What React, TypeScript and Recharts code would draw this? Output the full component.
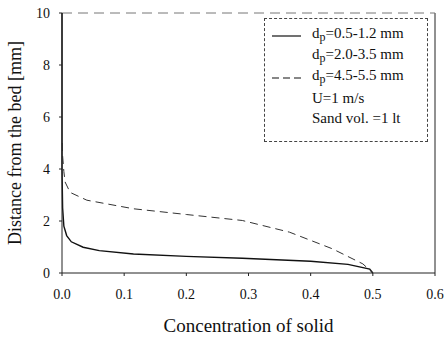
import { LineChart, Line, XAxis, YAxis, ReferenceLine } from 'recharts';

// d_p = 0.5-1.2 mm (solid)
const fineX = [0, 0, 0.001, 0.003, 0.0075, 0.015, 0.034, 0.06, 0.115, 0.2, 0.29, 0.4, 0.46, 0.495, 0.5];
const fineY = [10, 4, 2.5, 1.8, 1.44, 1.2, 0.99, 0.86, 0.73, 0.64, 0.57, 0.45, 0.33, 0.15, 0];

// d_p = 4.5-5.5 mm (dashed)
const coarseX = [0.0005, 0.001, 0.003, 0.005, 0.013, 0.04, 0.115, 0.2, 0.29, 0.366, 0.435, 0.484, 0.5];
const coarseY = [5, 4.5, 3.9, 3.5, 3.1, 2.8, 2.47, 2.25, 2.02, 1.57, 0.93, 0.35, 0];

const xTicks = [0, 0.1, 0.2, 0.3, 0.4, 0.5, 0.6];
const yTicks = [0, 2, 4, 6, 8, 10];

const legendRows = [
  { size: '0.5-1.2', dash: 'solid' },
  { size: '2.0-3.5', dash: 'none' },
  { size: '4.5-5.5', dash: 'dashed' },
];
const notes = ['U=1 m/s', 'Sand vol. =1 lt'];

const fineData = fineX.map((x, i) => ({ x, y: fineY[i] }));
const coarseData = coarseX.map((x, i) => ({ x, y: coarseY[i] }));

const serif = '"Liberation Serif", "DejaVu Serif", serif';

export default function App() {
  return (
    <div style={{ position: 'absolute', left: 0, top: 0, width: 444, height: 338, background: '#fff', fontFamily: serif }}>
      <LineChart width={444} height={338} margin={{ top: 13, right: 9, left: 0, bottom: 0 }}>
        <XAxis
          dataKey="x"
          type="number"
          domain={[0, 0.6]}
          ticks={xTicks}
          tickFormatter={(v: number) => v.toFixed(1)}
          allowDuplicatedCategory={false}
          stroke="#222"
          tickSize={3}
          tickMargin={13}
          height={65}
          tick={{ fontSize: 14, fill: '#111', fontFamily: serif }}
          label={{ value: 'Concentration of solid', position: 'insideBottom', offset: 6, fontSize: 19, fill: '#111', fontFamily: serif }}
        />
        <YAxis
          dataKey="y"
          type="number"
          domain={[0, 10]}
          ticks={yTicks}
          stroke="#222"
          width={62}
          tickSize={3}
          tickMargin={9}
          tick={{ fontSize: 14, fill: '#111', fontFamily: serif }}
          label={{ value: 'Distance from the bed [mm]', angle: -90, position: 'insideLeft', offset: 0, dx: 15, fontSize: 18, fill: '#111', fontFamily: serif, style: { textAnchor: 'middle' } }}
        />
        <ReferenceLine x={0.6} stroke="#222" />
        <ReferenceLine y={10} stroke="#777" strokeDasharray="10 6" />
        <Line data={fineData} dataKey="y" type="linear" stroke="#111" strokeWidth={1.4} dot={false} isAnimationActive={false} />
        <Line data={coarseData} dataKey="y" type="linear" stroke="#333" strokeWidth={1} strokeDasharray="8 5" dot={false} isAnimationActive={false} />
      </LineChart>
      <div
        style={{
          position: 'absolute', left: 264, top: 18, width: 164, height: 124,
          border: '1px dashed #444', boxSizing: 'border-box', fontSize: 15, color: '#111',
          paddingTop: 6, lineHeight: '20.5px',
        }}
      >
        {legendRows.map((r) => (
          <div key={r.size} style={{ display: 'flex', alignItems: 'center', height: 21 }}>
            <svg width={40} height={10} style={{ marginLeft: 7, marginRight: 0 }}>
              {r.dash !== 'none' && (
                <line x1={0} y1={5} x2={29} y2={5} stroke="#111" strokeWidth={1.2} strokeDasharray={r.dash === 'dashed' ? '7 4' : undefined} />
              )}
            </svg>
            <span>d<sub style={{ fontSize: 12, verticalAlign: '-3px' }}>p</sub>={r.size} mm</span>
          </div>
        ))}
        {notes.map((n) => (
          <div key={n} style={{ paddingLeft: 47, height: 20 }}>{n}</div>
        ))}
      </div>
    </div>
  );
}
